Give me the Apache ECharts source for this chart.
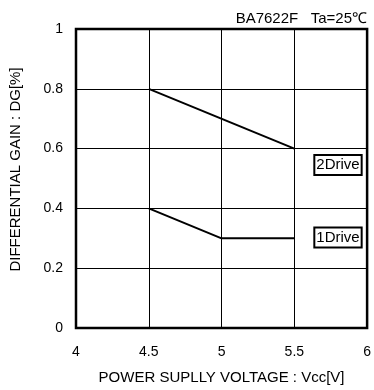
<!DOCTYPE html>
<html>
<head>
<meta charset="utf-8">
<script src="https://cdn.jsdelivr.net/npm/echarts@6/dist/echarts.min.js"></script>
<style>
  html, body { margin: 0; padding: 0; background: #fff; }
  #chart { width: 374px; height: 390px; }
</style>
</head>
<body>
<div id="chart"></div>
<script>
// data
const drive2 = [[4.5, 0.8], [5.5, 0.6]]
const drive1 = [[4.5, 0.4], [5, 0.3], [5.5, 0.3]]
const boxLabels = [
  { name: '2Drive', coord: [5.8, 0.545] },
  { name: '1Drive', coord: [5.8, 0.303] }
]

const font = 'Liberation Sans, Arial, sans-serif'
const chart = echarts.init(document.getElementById('chart'))

chart.setOption({
  animation: false,
  title: {
    text: 'BA7622F   Ta=25℃',
    right: 2,
    top: 6,
    textStyle: { fontFamily: font, fontSize: 15, fontWeight: 'normal', color: '#000' }
  },
  grid: {
    left: 75,
    right: 5,
    top: 29,
    bottom: 61,
    show: true,
    borderColor: '#000',
    borderWidth: 2.5
  },
  xAxis: {
    type: 'value',
    min: 4,
    max: 6,
    interval: 0.5,
    name: 'POWER SUPLLY VOLTAGE : Vcc[V]',
    nameLocation: 'middle',
    nameGap: 42,
    nameTextStyle: { fontFamily: font, fontSize: 15, color: '#000', verticalAlign: 'top' },
    axisLine: { show: false },
    axisTick: { show: false },
    axisLabel: { margin: 17, fontFamily: font, fontSize: 14, color: '#000' },
    splitLine: { lineStyle: { color: '#000', width: 1 } }
  },
  yAxis: {
    type: 'value',
    min: 0,
    max: 1,
    interval: 0.2,
    name: 'DIFFERENTIAL GAIN : DG[%]',
    nameLocation: 'middle',
    nameGap: 53,
    nameTextStyle: { fontFamily: font, fontSize: 15, color: '#000', padding: [0, 0, 0, 18] },
    axisLine: { show: false },
    axisTick: { show: false },
    axisLabel: { margin: 13, fontFamily: font, fontSize: 14, color: '#000' },
    splitLine: { lineStyle: { color: '#000', width: 1 } }
  },
  series: [
    {
      name: '2Drive',
      type: 'line',
      data: drive2,
      symbol: 'none',
      lineStyle: { color: '#000', width: 2 },
      markPoint: {
        symbol: 'rect',
        symbolSize: 0,
        label: {
          show: true,
          position: 'inside',
          formatter: p => p.name,
          fontFamily: font,
          fontSize: 15,
          color: '#000',
          backgroundColor: '#fff',
          borderColor: '#000',
          borderWidth: 2,
          padding: [2, 1, 1, 1]
        },
        data: boxLabels
      }
    },
    {
      name: '1Drive',
      type: 'line',
      data: drive1,
      symbol: 'none',
      lineStyle: { color: '#000', width: 2 }
    }
  ]
})
</script>
</body>
</html>
